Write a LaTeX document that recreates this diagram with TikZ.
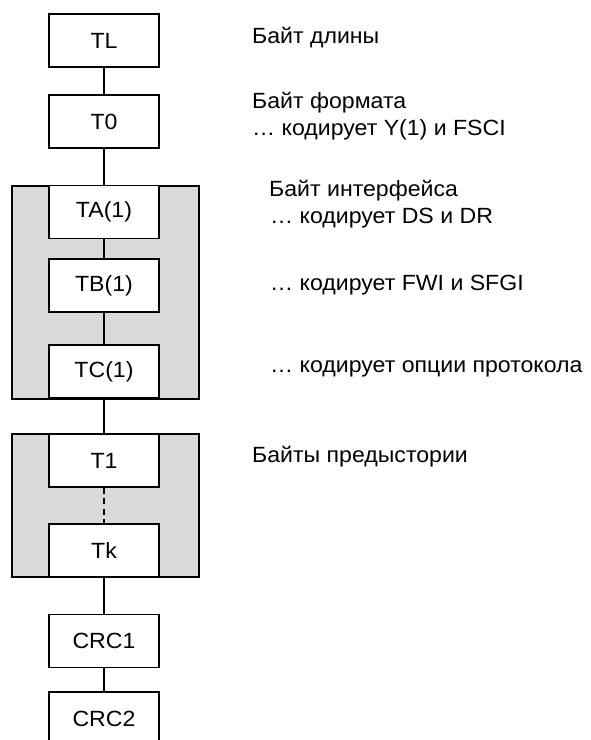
\documentclass[tikz,border=0pt]{standalone}
\usepackage{fontspec}
\setmainfont{Liberation Sans}[FakeStretch=1.05]
\begin{document}
\begin{tikzpicture}[x=1pt,y=-1pt,
  bx/.style={draw, line width=1.4pt, fill=white, minimum width=110pt, minimum height=53pt, inner sep=0pt, font=\fontsize{22}{26}\selectfont},
  frm/.style={draw, line width=1.4pt, fill=black!15},
  con/.style={line width=1.4pt},
  lbl/.style={anchor=base west, inner sep=0pt, font=\fontsize{22}{26}\selectfont}]
\useasboundingbox (0,0) rectangle (591,740);
\clip (0,0) rectangle (591,740);
% frames
\draw[frm] (12,186) rectangle (199,399);
\draw[frm] (12,434) rectangle (199,577);
% boxes
\node[bx] (TL) at (104,40.5) {TL};
\node[bx] (T0) at (104,121.5) {T0};
\node[bx] (TA) at (104,212) {TA(1)};
\node[bx] (TB) at (104,285.5) {TB(1)};
\node[bx] (TC) at (104,371.5) {TC(1)};
\node[bx] (T1) at (104,460.5) {T1};
\node[bx] (Tk) at (104,550.5) {Tk};
\node[bx] (CRC1) at (104,641) {CRC1};
\node[bx] (CRC2) at (104,718.5) {CRC2};
% connectors
\draw[con] (TL.south) -- (T0.north);
\draw[con] (T0.south) -- (TA.north);
\draw[con] (TA.south) -- (TB.north);
\draw[con] (TB.south) -- (TC.north);
\draw[con] (TC.south) -- (T1.north);
\draw[con, dash pattern=on 6pt off 4.5pt] (T1.south) -- (Tk.north);
\draw[con] (Tk.south) -- (CRC1.north);
\draw[con] (CRC1.south) -- (CRC2.north);
% labels
\node[lbl] (l1) at (252,43) {Байт длины};
\node[lbl] (l2a) at (252,108) {Байт формата};
\node[lbl] (l2b) at (252,135) {… кодирует Y(1) и FSCI};
\node[lbl] (l3a) at (269,196) {Байт интерфейса};
\node[lbl] (l3b) at (270,223) {… кодирует DS и DR};
\node[lbl] (l4) at (270,290) {… кодирует FWI и SFGI};
\node[lbl] (l5) at (270,372) {… кодирует опции протокола};
\node[lbl] (l6) at (252,462) {Байты предыстории};
\end{tikzpicture}
\end{document}
